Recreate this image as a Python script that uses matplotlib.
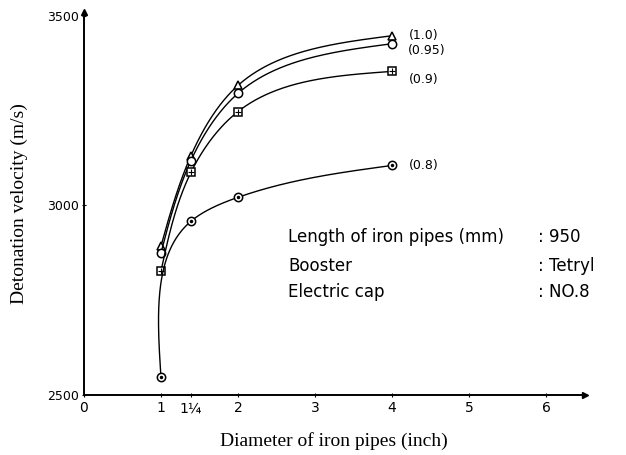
import numpy as np
import matplotlib
matplotlib.use("Agg")
import matplotlib.pyplot as plt

# pipe diameters (inch) as placed on the drawn axis; 1 1/4 sits a bit right of 1.25
diameters = [1.0, 1.39, 2.0, 4.0]

# detonation velocity (m/s) for each loading density
vel_100 = [2892, 3131, 3316, 3447]
vel_095 = [2874, 3118, 3295, 3426]
vel_090 = [2826, 3087, 3247, 3353]
vel_080 = [2547, 2958, 3021, 3105]

series_labels = ["(1.0)", "(0.95)", "(0.9)", "(0.8)"]
xtick_vals = [0, 1, 1.39, 2, 3, 4, 5, 6]
xtick_text = ["0", "1", "1¼", "2", "3", "4", "5", "6"]
ytick_vals = [2500, 3000, 3500]

HAND = "DejaVu Sans"
SERIF = "Liberation Serif"

XMAX, YMIN, YMAX = 6.5, 2500, 3510


def natural_spline(t, v, tt):
    n = len(t)
    h = np.diff(t)
    A = np.zeros((n, n))
    b = np.zeros(n)
    A[0, 0] = A[-1, -1] = 1
    for i in range(1, n - 1):
        A[i, i - 1] = h[i - 1]
        A[i, i] = 2 * (h[i - 1] + h[i])
        A[i, i + 1] = h[i]
        b[i] = 6 * ((v[i + 1] - v[i]) / h[i] - (v[i] - v[i - 1]) / h[i - 1])
    m = np.linalg.solve(A, b)
    out = np.empty_like(tt)
    for k, x in enumerate(tt):
        i = min(np.searchsorted(t, x, side="right") - 1, n - 2)
        a, c = t[i + 1] - x, x - t[i]
        out[k] = (m[i] * a ** 3 + m[i + 1] * c ** 3) / (6 * h[i]) \
            + (v[i] / h[i] - m[i] * h[i] / 6) * a \
            + (v[i + 1] / h[i] - m[i + 1] * h[i] / 6) * c
    return out


def smooth_curve(xs, ys, n=300):
    # parametric spline (chord length) in axis-fraction space
    px = np.array(xs) / XMAX * 0.8
    py = (np.array(ys) - YMIN) / (YMAX - YMIN) * 0.842 * 455 / 626
    t = np.concatenate([[0], np.cumsum(np.hypot(np.diff(px), np.diff(py)))])
    tt = np.linspace(0, t[-1], n)
    sx = natural_spline(t, px, tt)
    sy = natural_spline(t, py, tt)
    return sx / 0.8 * XMAX, sy / (0.842 * 455 / 626) * (YMAX - YMIN) + YMIN


fig = plt.figure(figsize=(6.26, 4.55), dpi=100)
ax = fig.add_axes([0.134, 0.132, 0.80, 0.842])
ax.set_xlim(0, XMAX)
ax.set_ylim(YMIN, YMAX)

for side in ["top", "right"]:
    ax.spines[side].set_visible(False)
ax.spines["left"].set_linewidth(1.4)
ax.spines["bottom"].set_linewidth(1.4)

# arrow heads at the ends of the axes
ax.plot(1, 0, ">k", transform=ax.transAxes, clip_on=False, markersize=5)
ax.plot(0, 1, "^k", transform=ax.transAxes, clip_on=False, markersize=5)

all_series = [vel_100, vel_095, vel_090, vel_080]
markers = ["^", "o", "s", "o"]

for vals, mk in zip(all_series, markers):
    cx, cy = smooth_curve(diameters, vals)
    ax.plot(cx, cy, color="black", linewidth=1.0)
    ax.plot(diameters, vals, linestyle="none", marker=mk, markersize=6,
            markerfacecolor="white", markeredgecolor="black", markeredgewidth=1.1)
    if mk == "s":
        ax.plot(diameters, vals, linestyle="none", marker="+", markersize=4,
                color="black", markeredgewidth=0.8)
ax.plot(diameters, vel_080, linestyle="none", marker=".", markersize=3, color="black")

label_offsets = [(0.22, 0), (0.2, -18), (0.22, -22), (0.22, 0)]
for vals, lab, (dx, dy) in zip(all_series, series_labels, label_offsets):
    ax.text(diameters[-1] + dx, vals[-1] + dy, lab, fontsize=9, family=HAND,
            va="center", ha="left")

ax.set_xticks(xtick_vals)
ax.set_xticklabels(xtick_text, family=HAND, fontsize=10)
ax.set_yticks(ytick_vals)
ax.set_yticklabels([str(v) for v in ytick_vals], family=HAND, fontsize=9)
ax.tick_params(axis="x", length=3, direction="inout", pad=3)
ax.tick_params(axis="y", length=3, direction="inout", pad=2)

ax.set_xlabel("Diameter of iron pipes (inch)", family=SERIF, fontsize=14, labelpad=12)
ax.set_ylabel("Detonation velocity (m/s)", family=SERIF, fontsize=14, labelpad=14)

notes = [
    ("Length of iron pipes (mm)", ": 950", 3000 - 84),
    ("Booster", ": Tetryl", 3000 - 160),
    ("Electric cap", ": NO.8", 3000 - 228),
]
for left, right, yv in notes:
    ax.text(2.65, yv, left, family=HAND, fontsize=12, va="center")
    ax.text(5.9, yv, right, family=HAND, fontsize=12, va="center")

fig.savefig("out.png", dpi=100)
